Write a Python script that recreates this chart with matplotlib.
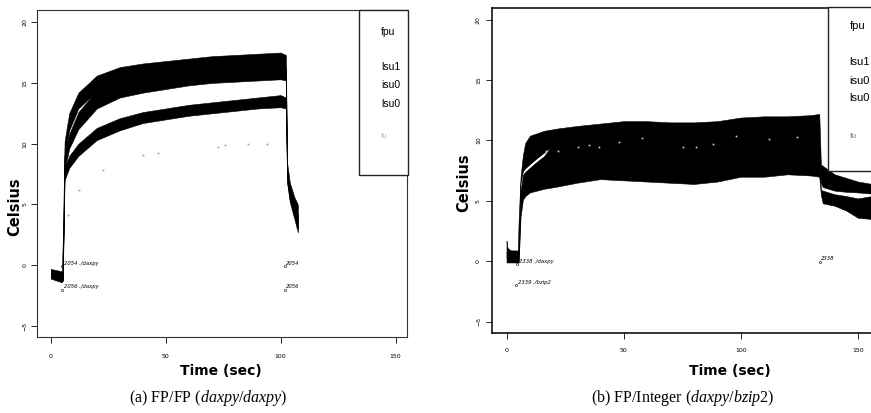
import matplotlib
matplotlib.use("Agg")
import matplotlib.pyplot as plt
from matplotlib.patches import Rectangle

plt.rcParams["mathtext.fontset"] = "custom"
plt.rcParams["mathtext.rm"] = "Liberation Serif"
plt.rcParams["mathtext.it"] = "Liberation Serif:italic"

# ---------------- panel (a): FP/FP (daxpy/daxpy) ----------------
a_time = [0, 4.8, 5.2, 6, 8, 12, 20, 30, 40, 50, 60, 70, 80, 90, 100,
          102.3, 102.8, 104, 106, 107.5]
a_fpu_hi = [-0.3, -0.5, 2.0, 10.2, 12.5, 14.2, 15.6, 16.3, 16.6, 16.8, 17.0,
            17.2, 17.3, 17.4, 17.5, 17.3, 8.5, 6.8, 5.6, 5.0]
a_fpu_lo = [-1.0, -1.3, -1.2, 8.9, 11.1, 12.9, 14.3, 15.0, 15.4, 15.7, 15.9,
            16.1, 16.2, 16.3, 16.4, 16.1, 7.5, 5.8, 4.6, 3.8]
a_lsu1_hi = [-0.5, -0.8, -0.8, 9.2, 10.8, 12.6, 14.4, 15.1, 15.5, 15.8, 16.0,
             16.2, 16.3, 16.4, 16.5, 16.2, 7.8, 6.2, 5.0, 4.2]
a_lsu1_lo = [-1.1, -1.4, -1.3, 7.8, 9.6, 11.2, 12.9, 13.8, 14.2, 14.5, 14.8,
             15.0, 15.1, 15.2, 15.3, 15.2, 7.0, 5.4, 4.0, 3.0]
a_isu0_hi = [-0.4, -0.7, -0.7, 8.0, 9.0, 10.0, 11.3, 12.1, 12.6, 12.9, 13.2,
             13.4, 13.6, 13.8, 14.0, 13.8, 7.4, 5.9, 4.7, 4.0]
a_isu0_lo = [-1.0, -1.3, -1.2, 7.0, 8.0, 9.0, 10.3, 11.1, 11.7, 12.0, 12.3,
             12.5, 12.7, 12.9, 13.0, 12.9, 6.8, 5.2, 3.8, 2.7]
a_fu_time = [7.4, 12.2, 22.9, 40.0, 46.7, 72.9, 75.8, 85.9, 94.2]
a_fu_temp = [4.1, 6.2, 7.8, 9.1, 9.2, 9.7, 9.9, 10.0, 10.0]

# ---------------- panel (b): FP/Integer (daxpy/bzip2) ----------------
b_time = [0, 0.2, 1, 2, 3, 4, 4.8, 5.2, 6, 7, 8, 10, 13, 16, 19, 22, 30, 40,
          50, 60, 70, 80, 90, 100, 110, 120, 130, 133.5, 134.2, 135, 140, 145,
          150, 156]
b_fpu_hi = [1.7, 1.2, 1.0, 0.9, 0.9, 0.9, 0.9, 3.5, 7.0, 8.8, 9.8, 10.4, 10.6,
            10.8, 10.9, 11.0, 11.2, 11.4, 11.6, 11.6, 11.5, 11.5, 11.6, 11.9,
            12.0, 12.0, 12.1, 12.2, 8.0, 7.9, 7.2, 6.9, 6.6, 6.4]
b_fpu_lo = [0.3, 0.2, 0.1, 0.1, 0.1, 0.1, 0.1, 0.1, 6.5, 7.45, 7.7, 8.05,
            8.55, 9.0, 9.45, 9.0, 8.5, 8.5, 8.5, 8.5, 8.5, 8.5, 8.5, 8.6, 8.7,
            8.8, 8.8, 8.8, 6.5, 6.15, 5.85, 5.75, 5.7, 5.6]
b_int_hi = [0.8, 0.7, 0.7, 0.6, 0.6, 0.6, 0.6, 0.6, 5.8, 7.15, 7.4, 7.75,
            8.25, 8.7, 9.5, 9.6, 9.8, 9.9, 10.0, 10.0, 9.9, 9.9, 10.0, 10.1,
            10.2, 10.2, 10.2, 10.2, 5.9, 5.85, 5.55, 5.4, 5.2, 5.4]
b_int_lo = [-0.1, -0.1, -0.1, -0.1, -0.1, -0.1, -0.1, -0.1, 3.7, 5.1, 5.4,
            5.7, 5.85, 6.0, 6.1, 6.2, 6.5, 6.8, 6.7, 6.6, 6.5, 6.4, 6.6, 7.0,
            7.0, 7.2, 7.1, 7.0, 5.5, 4.8, 4.6, 4.2, 3.6, 3.5]
b_fu_time = [17, 22, 30.6, 35, 39.5, 48, 58, 75.5, 81, 88, 98, 112, 124]
b_fu_temp = [9.1, 9.1, 9.5, 9.6, 9.5, 9.9, 10.2, 9.5, 9.5, 9.75, 10.4, 10.1, 10.3]

legend_labels = ["fpu", "lsu1", "isu0", "lsu0", "fu"]
x_ticks = [0, 50, 100, 150]
y_ticks = [-5, 0, 5, 10, 15, 20]

W, H = 871, 413
fig = plt.figure(figsize=(W / 100, H / 100), dpi=100)


def px_axes(left, top, right, bottom):
    return fig.add_axes([left / W, 1 - bottom / H, (right - left) / W,
                         (bottom - top) / H])


def style(ax, xlim, ylim, xpad, ypad, frame_lw, frame_col):
    ax.set_xlim(*xlim)
    ax.set_ylim(*ylim)
    ax.set_xticks(x_ticks)
    ax.set_yticks(y_ticks)
    ax.tick_params(axis="x", length=4, width=0.6, pad=xpad, labelsize=4.5)
    ax.tick_params(axis="y", length=4, width=0.6, pad=ypad, labelsize=4.5,
                   labelrotation=90)
    for lab in ax.get_yticklabels():
        lab.set_va("center")
    for s in ax.spines.values():
        s.set_linewidth(frame_lw)
        s.set_color(frame_col)


def band(ax, t, lo, hi):
    ax.fill_between(t, lo, hi, color="black", lw=0.4, edgecolor="black",
                    zorder=2)


def legend_box(ax, x0, y0, x1, y1, tx, ys, fs, fu_col):
    ax.add_patch(Rectangle((x0, y0), x1 - x0, y1 - y0, facecolor="white",
                           edgecolor="#222222", lw=1.0, clip_on=False,
                           zorder=5))
    for lab, y in zip(legend_labels, ys):
        col = fu_col if lab == "fu" else "black"
        size = fs * 0.75 if lab == "fu" else fs
        ax.text(tx, y, lab, fontsize=size, color=col, va="center", ha="left",
                family="Liberation Sans", zorder=6, clip_on=False)


def tag(ax, x, y, s):
    ax.plot([x], [y - 0.25], marker="o", ms=1.6, mfc="none", mec="black",
            mew=0.4, zorder=4)
    ax.text(x + 0.6, y, s, fontsize=3.8, style="italic", va="center",
            ha="left", zorder=4)


# panel (a)
ax1 = px_axes(37, 10, 407, 337)
style(ax1, (-6, 155), (-5.9, 21.0), 8, 3, 0.8, "#333333")
band(ax1, a_time, a_isu0_lo, a_isu0_hi)
band(ax1, a_time, a_lsu1_lo, a_lsu1_hi)
band(ax1, a_time, a_fpu_lo, a_fpu_hi)
ax1.plot(a_fu_time, a_fu_temp, ls="none", marker="s", ms=1.2, color="#9a9a9a",
         mew=0, zorder=3)
tag(ax1, 5.0, 0.15, "2054 ./daxpy")
tag(ax1, 5.0, -1.75, "2056 ./daxpy")
tag(ax1, 101.8, 0.15, "2054")
tag(ax1, 101.8, -1.75, "2056")
legend_box(ax1, 134, 7.44, 155.4, 20.96, 143.6,
           [19.2, 16.3, 14.8, 13.3, 10.6], 7.5, "#b0b0b0")

# panel (b)
ax2 = px_axes(492, 8, 875, 333)
style(ax2, (-6.2, 157.3), (-5.94, 20.97), 7, 4, 1.1, "black")
band(ax2, b_time, b_int_lo, b_int_hi)
band(ax2, b_time, b_fpu_lo, b_fpu_hi)
ax2.plot(b_fu_time, b_fu_temp, ls="none", marker="s", ms=1.2, color="#d8d8d8",
         mew=0, zorder=3)
tag(ax2, 4.6, 0.0, "2338 ./daxpy")
tag(ax2, 4.2, -1.75, "2339 ./bzip2")
tag(ax2, 133.8, 0.2, "2338")
legend_box(ax2, 137.2, 7.46, 160.0, 21.05, 146.4,
           [19.5, 16.5, 14.9, 13.5, 10.3], 8, "#777777")

# axis titles and captions
for cx, cy in [(15, 207), (464, 183)]:
    fig.text(cx / W, 1 - cy / H, "Celsius", rotation=90, fontsize=10.5,
             fontweight="bold", ha="center", va="center")
for cx in [221, 730]:
    fig.text(cx / W, 1 - 371 / H, "Time (sec)", fontsize=10,
             fontweight="bold", ha="center", va="center")
fig.text(208 / W, 1 - 398 / H, r"(a) FP/FP ($\mathit{daxpy/daxpy}$)",
         fontsize=11.5, family="Liberation Serif", ha="center", va="center")
fig.text(683 / W, 1 - 398 / H, r"(b) FP/Integer ($\mathit{daxpy/bzip2}$)",
         fontsize=11.5, family="Liberation Serif", ha="center", va="center")

fig.savefig("out.png", dpi=100)
